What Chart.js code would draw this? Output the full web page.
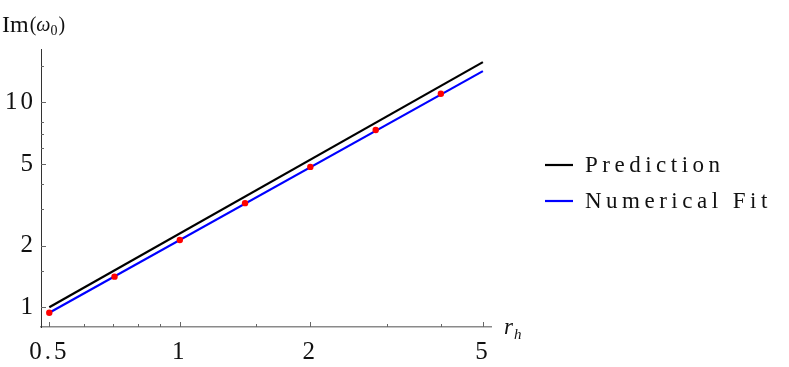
<!DOCTYPE html>
<html>
<head>
<meta charset="utf-8">
<script src="https://cdn.jsdelivr.net/npm/chart.js@4.4.1/dist/chart.umd.min.js"></script>
<style>
html,body{margin:0;padding:0;background:#fff;}
#wrap{width:789px;height:367px;}
</style>
</head>
<body>
<div id="wrap"><canvas id="c" width="789" height="367"></canvas></div>
<script>
// ---- data ----
const seriesNames = ['Prediction', 'Numerical Fit'];
const predictionX = [0.5, 5];
const predictionY = [1.0, 15.7];
const fitX = [0.5, 5];
const fitY = [0.94, 14.2];
const dotsX = [0.5, 0.707, 1, 1.414, 2, 2.83, 4];
const dotsY = [0.94, 1.41, 2.13, 3.22, 4.84, 7.32, 11.0];
const xMajorTicks = [0.5, 1, 2, 5];
const xMinorTicks = [0.6, 0.7, 0.8, 0.9, 1.5, 3, 4];
const yMajorTicks = [1, 2, 5, 10];
const yMinorTicks = [1.5, 3, 4, 6, 7, 8, 15];
const xRange = [0.4785, 5.22];
const yRange = [0.801, 18.2];

const pts = (xs, ys) => xs.map((x, i) => ({x: x, y: ys[i]}));
const FONT = '"Liberation Serif", "DejaVu Serif", serif';

const inwardTicks = {
  id: 'inwardTicks',
  beforeDraw(chart) { chart.ctx.letterSpacing = '3px'; },
  afterDraw(chart) {
    const ctx = chart.ctx, a = chart.chartArea;
    const xs = chart.scales.x, ys = chart.scales.y;
    ctx.save();
    ctx.letterSpacing = '0px';
    ctx.strokeStyle = '#666';
    ctx.lineWidth = 1;
    const drawX = (v, len) => {
      const px = Math.round(xs.getPixelForValue(v)) + 0.5;
      ctx.beginPath(); ctx.moveTo(px, a.bottom); ctx.lineTo(px, a.bottom - len); ctx.stroke();
    };
    const drawY = (v, len) => {
      const py = Math.round(ys.getPixelForValue(v)) + 0.5;
      ctx.beginPath(); ctx.moveTo(a.left, py); ctx.lineTo(a.left + len, py); ctx.stroke();
    };
    xMajorTicks.forEach(v => drawX(v, 5));
    xMinorTicks.forEach(v => drawX(v, 3));
    yMajorTicks.forEach(v => drawY(v, 5));
    yMinorTicks.forEach(v => drawY(v, 3));

    // axis titles
    ctx.fillStyle = '#111';
    ctx.textBaseline = 'alphabetic';
    ctx.textAlign = 'left';
    ctx.font = '24px ' + FONT;
    ctx.fillText('Im', 2, 32);
    let x = 2 + ctx.measureText('Im').width + 1;
    ctx.font = '20px ' + FONT;
    ctx.fillText('(', x, 31); x += ctx.measureText('(').width;
    ctx.font = 'italic 20px ' + FONT;
    ctx.fillText('ω', x, 31); x += ctx.measureText('ω').width;
    ctx.font = '14px ' + FONT;
    ctx.fillText('0', x, 35); x += ctx.measureText('0').width + 1;
    ctx.font = '20px ' + FONT;
    ctx.fillText(')', x, 31);

    ctx.font = 'italic 23px ' + FONT;
    ctx.fillText('r', 504, 334);
    ctx.font = 'italic 15px ' + FONT;
    ctx.fillText('h', 514, 339);

    // legend
    const colors = ['#000000', '#0000ff'];
    const ly = [165, 201];
    seriesNames.forEach((n, i) => {
      ctx.strokeStyle = colors[i];
      ctx.lineWidth = 2.2;
      ctx.beginPath(); ctx.moveTo(545, ly[i]); ctx.lineTo(573, ly[i]); ctx.stroke();
      ctx.fillStyle = '#111';
      ctx.font = '23px ' + FONT;
      ctx.letterSpacing = '4.5px';
      ctx.textBaseline = 'middle';
      ctx.fillText(n, 585, ly[i] + 1);
    });
    ctx.restore();
  }
};

const makeTicks = (majors, minors) => (scale) => {
  scale.ticks = majors.concat(minors).sort((p, q) => p - q).map(v => ({value: v}));
};

new Chart(document.getElementById('c'), {
  type: 'scatter',
  data: {
    datasets: [
      {label: 'dots', data: pts(dotsX, dotsY), showLine: false, pointRadius: 3.2, pointHoverRadius: 3.2,
       pointBackgroundColor: '#ff0000', pointBorderWidth: 0, order: 0},
      {label: seriesNames[1], data: pts(fitX, fitY), showLine: true, borderColor: '#0000ff', borderWidth: 2.2,
       pointRadius: 0, order: 1},
      {label: seriesNames[0], data: pts(predictionX, predictionY), showLine: true, borderColor: '#000000', borderWidth: 2.2,
       pointRadius: 0, order: 2}
    ]
  },
  options: {
    responsive: false,
    animation: false,
    layout: {padding: {top: 49, right: 298, left: 0, bottom: 0}},
    plugins: {legend: {display: false}, tooltip: {enabled: false}},
    scales: {
      x: {
        type: 'logarithmic', min: xRange[0], max: xRange[1],
        afterBuildTicks: makeTicks(xMajorTicks, xMinorTicks),
        afterFit: s => { s.height = 40; },
        grid: {display: true, drawOnChartArea: false, drawTicks: false},
        border: {display: true, color: '#8a8a8a', width: 1.5},
        ticks: {autoSkip: false, maxRotation: 0, padding: 10, color: '#111',
                font: {family: FONT, size: 25},
                callback: v => xMajorTicks.includes(v) ? String(v) : ''}
      },
      y: {
        type: 'logarithmic', min: yRange[0], max: yRange[1],
        afterBuildTicks: makeTicks(yMajorTicks, yMinorTicks),
        afterFit: s => { s.width = 41; },
        grid: {display: true, drawOnChartArea: false, drawTicks: false},
        border: {display: true, color: '#333', width: 1},
        ticks: {autoSkip: false, padding: 5, color: '#111',
                font: {family: FONT, size: 25},
                callback: v => yMajorTicks.includes(v) ? String(v) : ''}
      }
    }
  },
  plugins: [inwardTicks]
});
</script>
</body>
</html>
